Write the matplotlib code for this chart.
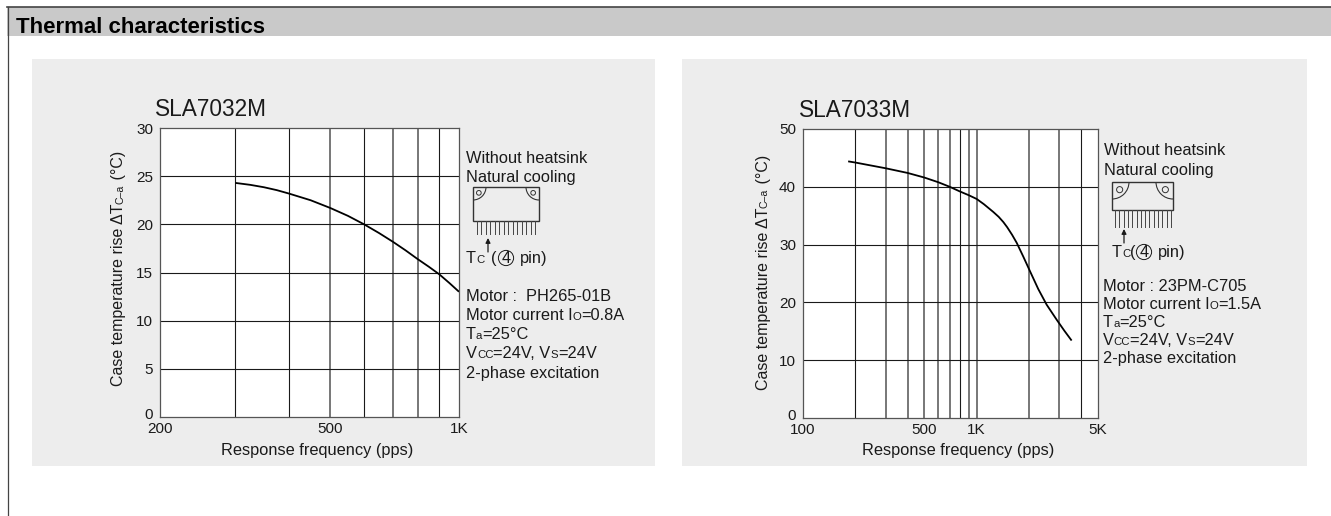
#!/usr/bin/env python3
# -*- coding: utf-8 -*-
import matplotlib
matplotlib.use("Agg")
import matplotlib.pyplot as plt
from matplotlib.patches import Arc, Circle, Rectangle
from matplotlib.transforms import ScaledTranslation

plt.rcParams['font.family'] = ['Liberation Sans', 'DejaVu Sans']

W, H = 1331, 516

# SLA7032M
freq_a = [300, 325, 350, 375, 400, 450, 500, 550, 600, 650, 700, 750, 800, 850, 900, 950, 1000]
temp_a = [24.3, 24.1, 23.85, 23.55, 23.2, 22.5, 21.7, 20.88, 20.0, 19.1, 18.2, 17.3, 16.4, 15.6, 14.8, 13.9, 13.0]
grid_a = [300, 400, 500, 600, 700, 800, 900]
grid_a_gray = [500, 700, 800]
xticks_a = [200, 500, 1000]
xlabels_a = ['200', '500', '1K']
yticks_a = [0, 5, 10, 15, 20, 25, 30]

# SLA7033M
freq_b = [182, 200, 300, 400, 500, 600, 700, 800, 900, 1000, 1100, 1247, 1340, 1425, 1500,
          1600, 1702, 1858, 2029, 2265, 2531, 2891, 3200, 3524]
temp_b = [44.4, 44.2, 43.2, 42.4, 41.6, 40.8, 40.0, 39.2, 38.55, 37.9, 37.0, 35.65, 34.8, 33.9, 33.0,
          31.7, 30.3, 27.9, 25.4, 22.3, 19.6, 17.0, 15.1, 13.4]
grid_b = [200, 300, 400, 500, 600, 700, 800, 900, 1000, 2000, 3000, 4000]
grid_b_gray = [300, 400, 500, 600, 700, 900, 1000, 2000, 3000]
xticks_b = [100, 500, 1000, 5000]
xlabels_b = ['100', '500', '1K', '5K']
yticks_b = [0, 10, 20, 30, 40, 50]

INK = '#1a1a1a'
FS = 11.8
TICK_FS = 11.0
S = 8.2


def px_axes(fig, x0, y0, x1, y1):
    return fig.add_axes([x0 / W, 1 - y1 / H, (x1 - x0) / W, (y1 - y0) / H])


def runs(bg, x, y, parts, rotated=False):
    """Text with small subscript pieces: parts = [(string, size), ...]"""
    rend = fig.canvas.get_renderer()
    for s, size in parts:
        t = bg.text(x, y, s, fontsize=size, color=INK, ha='left', va='baseline',
                    rotation=90 if rotated else 0, rotation_mode='anchor')
        box = t.get_window_extent(rend)
        # trailing blanks are not in the extent
        extra = 0.28 * size * 100 / 72 * (len(s) - len(s.rstrip()))
        if rotated:
            y -= box.height + extra
        else:
            x += box.width + extra


def chart(fig, rect, freq, temp, xlim, ylim, grid, gray, xticks, xlabels, yticks):
    ax = px_axes(fig, *rect)
    ax.set_xscale('log')
    ax.set_xlim(*xlim)
    ax.set_ylim(*ylim)
    for g in grid:
        if g in gray:
            ax.axvline(g, color='#777777', lw=1.4)
        else:
            ax.axvline(g, color=INK, lw=0.8)
    for v in yticks[1:-1]:
        ax.axhline(v, color=INK, lw=0.8)
    ax.plot(freq, temp, color='black', lw=1.3, solid_capstyle='butt', solid_joinstyle='round', zorder=3)
    ax.set_xticks(xticks)
    ax.set_xticklabels(xlabels, color=INK)
    ax.xaxis.set_minor_locator(matplotlib.ticker.NullLocator())
    ax.set_yticks(yticks)
    ax.tick_params(axis='both', length=0, labelsize=TICK_FS, labelcolor=INK)
    ax.tick_params(axis='x', pad=3.5)
    ax.tick_params(axis='y', pad=5)
    # the 0 sits a little above the axis line, clear of the first x label
    zero = ax.get_yticklabels()[0]
    zero.set_transform(zero.get_transform() + ScaledTranslation(0, 2.5 / 72, fig.dpi_scale_trans))
    for sp in ax.spines.values():
        sp.set_color('#555555')
        sp.set_linewidth(0.9)
    return ax


def package(bg, x0, y0, x1, y1, pin0, pin1, pin_end, r, n_pins=14):
    bg.add_patch(Rectangle((x0, y0), x1 - x0, y1 - y0, fc='none', ec='#333333', lw=1.0))
    for cx, a1, a2 in [(x0, 0, 90), (x1, 90, 180)]:
        bg.add_patch(Arc((cx, y0), 2 * r, 2 * r, theta1=a1, theta2=a2, ec='#333333', lw=0.8))
    for cx in (x0 + r * 0.45, x1 - r * 0.45):
        bg.add_patch(Circle((cx, y0 + r * 0.45), r * 0.18, fc='none', ec='#333333', lw=0.7))
    step = (pin1 - pin0) / (n_pins - 1)
    for i in range(n_pins):
        px = pin0 + i * step
        bg.plot([px, px], [y1, pin_end], color='#444444', lw=0.7)


def circled_four(bg, x, y):
    bg.add_patch(Circle((x, y), 7.6, fc='none', ec=INK, lw=0.7))
    bg.text(x, y + 5.2, '4', fontsize=FS, color=INK, ha='center', va='baseline')


fig = plt.figure(figsize=(W / 100, H / 100), dpi=100, facecolor='white')

bg = fig.add_axes([0, 0, 1, 1])
bg.set_xlim(0, W)
bg.set_ylim(H, 0)
bg.axis('off')

# frame, header band and the two panels
bg.add_patch(Rectangle((7, 7), W - 7, 29, fc='#c9c9c9', ec='none'))
bg.plot([7, W], [7, 7], color='#444444', lw=1.2)
bg.plot([7.5, 7.5], [7, H], color='#444444', lw=0.9)
bg.text(16, 33, 'Thermal characteristics', fontsize=16, fontweight='bold', color='black',
        ha='left', va='baseline')
bg.add_patch(Rectangle((31.5, 59), 623, 407, fc='#ededed', ec='none'))
bg.add_patch(Rectangle((682, 59), 624.5, 407, fc='#ededed', ec='none'))

ax_a = chart(fig, (160, 128, 459, 417), freq_a, temp_a, (200, 1000), (0, 30),
             grid_a, grid_a_gray, xticks_a, xlabels_a, yticks_a)
ax_b = chart(fig, (803, 129, 1098, 418), freq_b, temp_b, (100, 5000), (0, 50),
             grid_b, grid_b_gray, xticks_b, xlabels_b, yticks_b)

bg.text(155, 116, 'SLA7032M', fontsize=16.3, color=INK, ha='left', va='baseline')
bg.text(799, 117, 'SLA7033M', fontsize=16.3, color=INK, ha='left', va='baseline')
bg.text(317, 450, 'Response frequency (pps)', fontsize=FS, color=INK, ha='center', va='center')
bg.text(958, 451, 'Response frequency (pps)', fontsize=FS, color=INK, ha='center', va='center')

for lx, ly in [(123, 386), (768, 390)]:
    runs(bg, lx, ly, [('Case temperature rise \u0394T', 11.5), ('C\u2013a', 7.6), (' (\u00b0C)', 11.5)], rotated=True)

# left notes
bg.text(466, 163, 'Without heatsink', fontsize=FS, color=INK)
bg.text(466, 182, 'Natural cooling', fontsize=FS, color=INK)
package(bg, 473, 187, 539, 221, 477, 535, 234, 13)
bg.annotate('', xy=(488, 238), xytext=(488, 252),
            arrowprops=dict(arrowstyle='-|>', color=INK, lw=0.9, mutation_scale=7, shrinkA=0, shrinkB=0))
runs(bg, 466, 263, [('T', FS), ('C', S)])
bg.text(491, 263, '(', fontsize=FS, color=INK)
circled_four(bg, 506, 258)
bg.text(520, 263, 'pin)', fontsize=FS, color=INK)
runs(bg, 466, 301, [('Motor :  PH265-01B', FS)])
runs(bg, 466, 320, [('Motor current I', FS), ('O', S), ('=0.8A', FS)])
runs(bg, 466, 339, [('T', FS), ('a', S), ('=25\u00b0C', FS)])
runs(bg, 466, 358, [('V', FS), ('CC', S), ('=24V, V', FS), ('S', S), ('=24V', FS)])
runs(bg, 466, 378, [('2-phase excitation', FS)])

# right notes
bg.text(1104, 155, 'Without heatsink', fontsize=FS, color=INK)
bg.text(1104, 175, 'Natural cooling', fontsize=FS, color=INK)
package(bg, 1112, 182, 1173, 210, 1115, 1171, 227, 17)
bg.annotate('', xy=(1124, 229), xytext=(1124, 243),
            arrowprops=dict(arrowstyle='-|>', color=INK, lw=0.9, mutation_scale=7, shrinkA=0, shrinkB=0))
runs(bg, 1112, 257, [('T', FS), ('C', S), ('(', FS)])
circled_four(bg, 1144, 252)
bg.text(1158, 257, 'pin)', fontsize=FS, color=INK)
runs(bg, 1103, 291, [('Motor : 23PM-C705', FS)])
runs(bg, 1103, 309, [('Motor current I', FS), ('O', S), ('=1.5A', FS)])
runs(bg, 1103, 327, [('T', FS), ('a', S), ('=25\u00b0C', FS)])
runs(bg, 1103, 345, [('V', FS), ('CC', S), ('=24V, V', FS), ('S', S), ('=24V', FS)])
runs(bg, 1103, 363, [('2-phase excitation', FS)])

fig.savefig('out.png', dpi=100)
